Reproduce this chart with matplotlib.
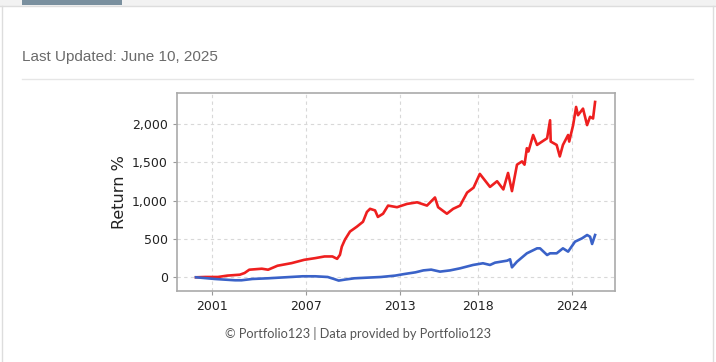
"""Portfolio123 return chart card

"""
import matplotlib
matplotlib.use("Agg")
import matplotlib.pyplot as plt
from matplotlib.patches import Rectangle
from matplotlib.lines import Line2D
from matplotlib.ticker import FuncFormatter

W, H = 716, 362

red_years = [2000.0, 2000.6, 2001.4, 2002.0, 2002.8, 2003.1, 2003.4, 2004.2,
             2004.6, 2005.2, 2006.1, 2006.9, 2007.6, 2008.2, 2008.7, 2009.0,
             2009.18, 2009.3, 2009.5, 2009.82, 2010.26, 2010.65, 2010.9,
             2011.1, 2011.42, 2011.6, 2011.93, 2012.25, 2012.82, 2013.46,
             2014.1, 2014.73, 2015.24, 2015.44, 2016.0, 2016.4, 2016.84,
             2017.29, 2017.7, 2018.1, 2018.75, 2019.2, 2019.6, 2019.9,
             2020.15, 2020.47, 2020.79, 2020.95, 2021.1, 2021.2, 2021.5,
             2021.75, 2022.07, 2022.39, 2022.58, 2022.62, 2023.0, 2023.2,
             2023.4, 2023.73, 2023.8, 2024.05, 2024.24, 2024.36, 2024.68,
             2024.94, 2025.13, 2025.32, 2025.45]
red_returns = [0, 4, 4, 22, 34, 56, 99, 112, 99, 151, 185, 228, 250, 272, 272,
               241, 293, 400, 492, 597, 661, 725, 853, 894, 873, 788, 830,
               936, 915, 958, 979, 936, 1042, 915, 830, 894, 936, 1106, 1170,
               1350, 1180, 1254, 1147, 1362, 1125, 1470, 1513, 1470, 1685,
               1642, 1858, 1728, 1772, 1815, 2050, 1772, 1728, 1578, 1728,
               1858, 1772, 1987, 2224, 2116, 2202, 1987, 2095, 2073, 2289]

blue_years = [2000.0, 2001.2, 2001.8, 2002.5, 2002.9, 2003.6, 2004.6, 2005.7,
              2006.8, 2007.6, 2008.4, 2008.8, 2009.1, 2009.5, 2010.1, 2011.0,
              2011.8, 2012.7, 2013.3, 2014.0, 2014.5, 2015.0, 2015.56,
              2016.2, 2016.84, 2017.67, 2018.3, 2018.75, 2019.07, 2019.84,
              2020.03, 2020.15, 2020.47, 2021.1, 2021.75, 2021.94, 2022.39,
              2022.58, 2023.0, 2023.4, 2023.73, 2024.17, 2024.62, 2024.94,
              2025.13, 2025.26, 2025.45]
blue_returns = [0, -22, -30, -39, -39, -22, -13, 0, 13, 13, 4, -22, -43, -30,
                -13, -4, 4, 22, 43, 65, 90, 100, 74, 90, 117, 161, 183, 161,
                191, 217, 235, 130, 204, 313, 378, 378, 291, 313, 313, 378,
                335, 465, 509, 552, 530, 435, 552]

x_ticks = [2001, 2007, 2013, 2018, 2024]
y_ticks = [0, 500, 1000, 1500, 2000]


def fx(px):
    return px / W


def fy(py):
    return 1 - py / H


fig = plt.figure(figsize=(W / 100, H / 100), dpi=100)

# page furniture
fig.add_artist(Rectangle((0, fy(6)), 1, 6 / H, transform=fig.transFigure,
                         color="#f2f2f2", lw=0))
fig.add_artist(Rectangle((fx(22), fy(5)), 100 / W, 5 / H,
                         transform=fig.transFigure, color="#7a909f", lw=0))
fig.add_artist(Line2D([0, 1], [fy(6), fy(6)], transform=fig.transFigure,
                      color="#dddddd", lw=1))
for px in (2, 713):
    fig.add_artist(Line2D([fx(px), fx(px)], [fy(6), 0],
                          transform=fig.transFigure, color="#dddddd", lw=1))
fig.add_artist(Line2D([fx(22), fx(693)], [fy(79), fy(79)],
                      transform=fig.transFigure, color="#e6e6e6", lw=1))
fig.text(fx(22), fy(57), "Last Updated: June 10, 2025", fontsize=11,
         family="Liberation Sans", color="#6a6a6a", va="center", ha="left")
fig.text(fx(358), fy(334), "\u00a9 Portfolio123 | Data provided by Portfolio123",
         fontsize=9.2, family="Lato", color="#555555", va="center", ha="center")

ax = fig.add_axes([fx(177), fy(291), (615 - 177) / W, (291 - 93) / H])
ax.plot(red_years, red_returns, color="#ee1f1f", lw=1.9)
ax.plot(blue_years, blue_returns, color="#3a62c8", lw=1.9)

ax.set_xlim(1998.79, 2026.72)
ax.set_ylim(-179, 2406)
ax.set_xticks(x_ticks)
ax.set_xticklabels([str(y) for y in x_ticks])
ax.set_yticks(y_ticks)
ax.yaxis.set_major_formatter(FuncFormatter(lambda v, p: f"{int(v):,}"))
ax.tick_params(labelsize=9, length=3, color="#999999", labelcolor="#222222")
ax.set_ylabel("Return %", fontsize=11.5, color="#222222")
ax.grid(True, ls=(0, (3, 3)), color="#d8d8d8", lw=0.8)
for s in ax.spines.values():
    s.set_color("#aaaaaa")
    s.set_linewidth(1.2)

fig.savefig("out.png", dpi=100)
